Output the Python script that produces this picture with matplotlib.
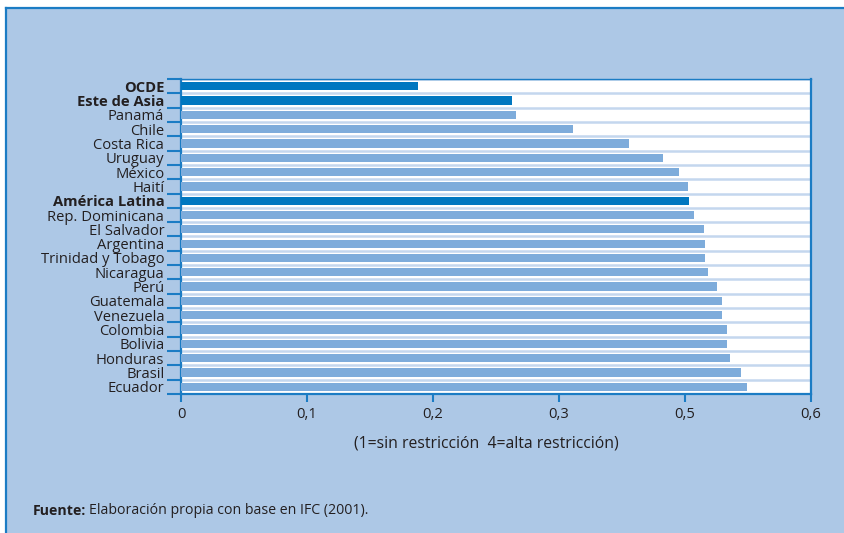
import matplotlib
matplotlib.use("Agg")
import matplotlib.pyplot as plt
import numpy as np
from matplotlib.lines import Line2D
from matplotlib.patches import Rectangle

plt.rcParams['font.family'] = ['Open Sans', 'DejaVu Sans']

countries = ["OCDE", "Este de Asia", "Panamá", "Chile", "Costa Rica", "Uruguay",
             "México", "Haití", "América Latina", "Rep. Dominicana", "El Salvador",
             "Argentina", "Trinidad y Tobago", "Nicaragua", "Perú", "Guatemala",
             "Venezuela", "Colombia", "Bolivia", "Honduras", "Brasil", "Ecuador"]
values = [0.226, 0.315, 0.319, 0.373, 0.427, 0.459, 0.474, 0.483, 0.484, 0.489,
          0.498, 0.499, 0.499, 0.502, 0.510, 0.515, 0.515, 0.520, 0.520, 0.523,
          0.533, 0.539]
aggregates = ["OCDE", "Este de Asia", "América Latina"]
x_ticks = [0, 0.12, 0.24, 0.36, 0.48, 0.6]
x_tick_labels = ["0", "0,1", "0,2", "0,3", "0,5", "0,6"]

PANEL = "#adc8e6"
AXIS_BLUE = "#1b7cc4"
DARK_BAR = "#0077c0"
LIGHT_BAR = "#7eacdb"
GRID = "#c4d7ee"
TEXT = "#231f20"

fig = plt.figure(figsize=(8.44, 5.33), dpi=100, facecolor="white")

# Panel background with blue top and left border
fig.patches.append(Rectangle((6 / 844, 0), 1 - 6 / 844, (533 - 8) / 533,
                             transform=fig.transFigure, facecolor=PANEL,
                             edgecolor="none", zorder=-10))
fig.lines.append(Line2D([6 / 844, 1], [(533 - 8) / 533] * 2, transform=fig.transFigure,
                        color=AXIS_BLUE, lw=1.6, zorder=-5))
fig.lines.append(Line2D([6 / 844] * 2, [0, (533 - 8) / 533], transform=fig.transFigure,
                        color=AXIS_BLUE, lw=1.6, zorder=-5))

ax = fig.add_axes([181 / 844, 139 / 533, 630 / 844, 315 / 533])
ax.set_facecolor("white")

n = len(countries)
y = np.arange(n)
colors = [DARK_BAR if c in aggregates else LIGHT_BAR for c in countries]
ax.barh(y, values, height=0.58, color=colors, zorder=3)

ax.set_xlim(0, 0.6)
ax.set_ylim(n - 0.5, -0.5)

# Row separators
for b in np.arange(n + 1) - 0.5:
    ax.axhline(b, color=GRID, lw=1.8, zorder=1)

ax.set_yticks(y)
ax.set_yticklabels(countries)
ax.set_yticks(np.arange(n + 1) - 0.5, minor=True)
ax.tick_params(axis="y", which="major", length=0, pad=12, labelsize=10.6, labelcolor=TEXT)
ax.tick_params(axis="y", which="minor", length=10, width=1.5, color=AXIS_BLUE)
for lbl in ax.get_yticklabels():
    if lbl.get_text() in aggregates:
        lbl.set_fontweight("bold")

ax.set_xticks(x_ticks)
ax.set_xticklabels(x_tick_labels)
ax.tick_params(axis="x", length=6, width=1.5, color=AXIS_BLUE, labelsize=10.6,
               labelcolor=TEXT, pad=3)

for side in ["left", "bottom", "right"]:
    ax.spines[side].set_color(AXIS_BLUE)
    ax.spines[side].set_linewidth(1.6)
ax.spines["top"].set_color(AXIS_BLUE)
ax.spines["top"].set_linewidth(1.0)

fig.text(486 / 844, 1 - 443 / 533, "(1=sin restricción  4=alta restricción)",
         ha="center", va="center", fontsize=11.3, color=TEXT)

t = fig.text(33 / 844, 1 - 511 / 533, "Fuente:", ha="left", va="center",
             fontsize=10.2, fontweight="bold", color=TEXT)
fig.canvas.draw()
bb = t.get_window_extent()
fig.text((bb.x1 + 3) / 844, 1 - 511 / 533, "Elaboración propia con base en IFC (2001).",
         ha="left", va="center", fontsize=10.2, color=TEXT)

fig.savefig("out.png", dpi=100, facecolor="white")
